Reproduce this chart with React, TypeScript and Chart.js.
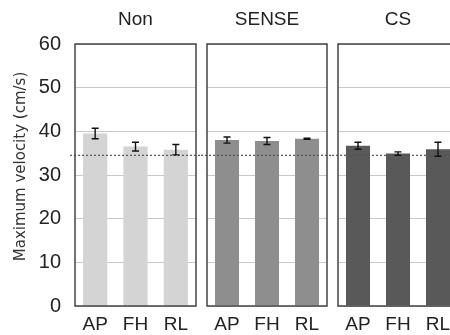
import React, { useEffect, useRef } from 'react';
import { Chart, registerables } from 'chart.js';

Chart.register(...registerables);

const categories = ['AP', 'FH', 'RL'];
const groupTitles = ['Non', 'SENSE', 'CS'];
const nonValues = [39.5, 36.5, 35.8];
const nonErrors = [1.2, 1.0, 1.2];
const senseValues = [38.0, 37.8, 38.3];
const senseErrors = [0.7, 0.8, 0.15];
const csValues = [36.7, 34.9, 35.9];
const csErrors = [0.8, 0.4, 1.6];
const groupColors = ['#d4d4d4', '#8e8e8e', '#595959'];
const yMin = 0;
const yMax = 60;
const yStep = 10;
const referenceValue = 34.5;
const yAxisTitle = 'Maximum velocity (cm/s)';

const groupValues = [nonValues, senseValues, csValues];
const groupErrors = [nonErrors, senseErrors, csErrors];

const canvasLefts = [0, 201, 332];
const canvasWidths = [201, 131, 131];
const HEIGHT = 335;

const decorPlugin = {
  id: 'panelDecor',
  afterDatasetsDraw(chart: any, _args: any, opts: any) {
    const ctx = chart.ctx;
    const area = chart.chartArea;
    const yScale = chart.scales.y;
    const yRef = yScale.getPixelForValue(referenceValue);
    ctx.save();
    ctx.strokeStyle = '#555';
    ctx.lineWidth = 1.2;
    ctx.setLineDash([2, 2]);
    ctx.beginPath();
    const startX = opts.first ? area.left - 5 : 0;
    ctx.moveTo(startX, yRef);
    ctx.lineTo(chart.width, yRef);
    ctx.stroke();
    ctx.restore();
    const meta = chart.getDatasetMeta(0);
    const vals: number[] = chart.data.datasets[0].data;
    const errs: number[] = opts.errors;
    ctx.save();
    ctx.strokeStyle = '#111';
    ctx.lineWidth = 1.4;
    meta.data.forEach((bar: any, i: number) => {
      const x = bar.x;
      const yTop = yScale.getPixelForValue(vals[i] + errs[i]);
      const yBot = yScale.getPixelForValue(vals[i] - errs[i]);
      const cw = 3.5;
      ctx.beginPath();
      ctx.moveTo(x, yTop);
      ctx.lineTo(x, yBot);
      ctx.moveTo(x - cw, yTop);
      ctx.lineTo(x + cw, yTop);
      ctx.moveTo(x - cw, yBot);
      ctx.lineTo(x + cw, yBot);
      ctx.stroke();
    });
    ctx.restore();
  },
  afterDraw(chart: any, _args: any, opts: any) {
    const ctx = chart.ctx;
    const area = chart.chartArea;
    ctx.save();
    ctx.strokeStyle = '#444';
    ctx.lineWidth = 1.5;
    ctx.strokeRect(area.left, area.top, area.right - area.left, area.bottom - area.top);
    ctx.fillStyle = '#222';
    ctx.font = '19px "Liberation Sans", Arial, sans-serif';
    ctx.textAlign = 'center';
    ctx.textBaseline = 'alphabetic';
    ctx.fillText(opts.title, (area.left + area.right) / 2, 25);
    if (opts.first) {
      ctx.translate(21, (area.top + area.bottom) / 2 - 8.5);
      ctx.rotate(-Math.PI / 2);
      ctx.font = '15px "DejaVu Sans", sans-serif';
      ctx.fillStyle = '#333';
      ctx.textBaseline = 'middle';
      ctx.fillText(yAxisTitle, 0, 0);
    }
    ctx.restore();
  },
};

export default function App() {
  const refs = [useRef<HTMLCanvasElement>(null), useRef<HTMLCanvasElement>(null), useRef<HTMLCanvasElement>(null)];

  useEffect(() => {
    const charts: Chart[] = [];
    groupTitles.forEach((title, gi) => {
      const canvas = refs[gi].current;
      if (!canvas) return;
      const first = gi === 0;
      const chart = new Chart(canvas, {
        type: 'bar',
        data: {
          labels: categories,
          datasets: [
            {
              data: groupValues[gi],
              backgroundColor: groupColors[gi],
              borderWidth: 0,
              barPercentage: 0.6,
              categoryPercentage: 1,
            },
          ],
        },
        options: {
          responsive: false,
          animation: false,
          layout: { padding: { top: 44, left: first ? 0 : 6, right: 5, bottom: 0 } },
          plugins: {
            legend: { display: false },
            tooltip: { enabled: false },
            title: { display: false },
            panelDecor: { first, title, errors: groupErrors[gi] },
          } as any,
          scales: {
            x: {
              grid: { display: false, drawTicks: false },
              border: { display: false },
              ticks: {
                font: { family: '"Liberation Sans", Arial, sans-serif', size: 19 },
                color: '#222',
                padding: 7,
              },
              afterFit: (s: any) => {
                s.height = 29;
              },
            },
            y: {
              min: yMin,
              max: yMax,
              ticks: {
                stepSize: yStep,
                display: first,
                font: { family: '"Liberation Sans", Arial, sans-serif', size: 20 },
                color: '#222',
                padding: 14,
              },
              grid: { color: '#c8c8c8', drawTicks: false, lineWidth: 1 },
              border: { display: false },
              afterFit: (s: any) => {
                s.width = first ? 75 : 0;
              },
            },
          },
        },
        plugins: [decorPlugin],
      });
      charts.push(chart);
    });
    return () => charts.forEach((c) => c.destroy());
  }, []);

  return (
    <div
      style={{
        position: 'fixed',
        left: 0,
        top: 0,
        width: 450,
        height: HEIGHT,
        overflow: 'hidden',
        background: '#fff',
      }}
    >
      {groupTitles.map((t, gi) => (
        <canvas
          key={t}
          ref={refs[gi]}
          width={canvasWidths[gi]}
          height={HEIGHT}
          style={{ position: 'absolute', left: canvasLefts[gi], top: 0, width: canvasWidths[gi], height: HEIGHT }}
        />
      ))}
    </div>
  );
}
